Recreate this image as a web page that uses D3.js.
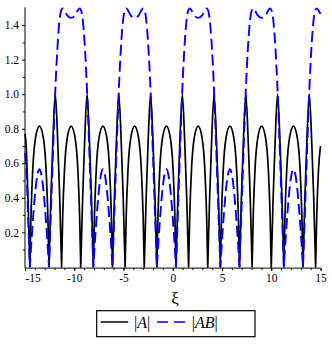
<!DOCTYPE html>
<html><head><meta charset="utf-8">
<script src="https://cdn.jsdelivr.net/npm/d3@7"></script>
<style>body{margin:0;background:#fff;} svg{display:block;} text{font-family:'Liberation Serif','Times New Roman',serif;}</style>
</head><body>
<svg id="chart" width="332" height="345"></svg>
<script>
// |A| samples (xi, value)
const xiA = [
  -15, -14.892, -14.700, -14.508,
  -14.391, -14.216, -13.925, -13.536, -13.147, -12.856, -12.681, -12.563,
  -12.371, -12.179, -11.923, -11.668, -11.476, -11.284,
  -11.167, -10.992, -10.701, -10.312, -9.923, -9.632, -9.457, -9.340,
  -9.148, -8.956, -8.700, -8.445, -8.253, -8.061,
  -7.944, -7.769, -7.478, -7.089, -6.700, -6.409, -6.234, -6.117,
  -5.925, -5.733, -5.477, -5.222, -5.030, -4.838,
  -4.721, -4.546, -4.255, -3.866, -3.477, -3.186, -3.011, -2.893,
  -2.701, -2.509, -2.253, -1.998, -1.806, -1.614,
  -1.497, -1.322, -1.031, -0.642, -0.253, 0.038, 0.213, 0.330,
  0.522, 0.714, 0.970, 1.225, 1.417, 1.609,
  1.726, 1.901, 2.192, 2.581, 2.970, 3.261, 3.436, 3.553,
  3.745, 3.937, 4.193, 4.448, 4.640, 4.832,
  4.949, 5.124, 5.415, 5.804, 6.193, 6.484, 6.659, 6.777,
  6.969, 7.161, 7.417, 7.672, 7.864, 8.056,
  8.173, 8.348, 8.639, 9.028, 9.417, 9.708, 9.883, 10.000,
  10.192, 10.384, 10.640, 10.895, 11.087, 11.279,
  11.396, 11.571, 11.862, 12.251, 12.640, 12.931, 13.106, 13.223,
  13.415, 13.607, 13.863, 14.118, 14.310, 14.503,
  14.620, 14.795, 15.0
];
const absA = [
  0.77, 0.71, 0.40, 0,
  0.30, 0.56, 0.75, 0.815, 0.75, 0.56, 0.30, 0,
  0.40, 0.71, 1.0, 0.71, 0.40, 0,
  0.30, 0.56, 0.75, 0.815, 0.75, 0.56, 0.30, 0,
  0.40, 0.71, 1.0, 0.71, 0.40, 0,
  0.30, 0.56, 0.75, 0.815, 0.75, 0.56, 0.30, 0,
  0.40, 0.71, 1.0, 0.71, 0.40, 0,
  0.30, 0.56, 0.75, 0.815, 0.75, 0.56, 0.30, 0,
  0.40, 0.71, 1.0, 0.71, 0.40, 0,
  0.30, 0.56, 0.75, 0.815, 0.75, 0.56, 0.30, 0,
  0.40, 0.71, 1.0, 0.71, 0.40, 0,
  0.30, 0.56, 0.75, 0.815, 0.75, 0.56, 0.30, 0,
  0.40, 0.71, 1.0, 0.71, 0.40, 0,
  0.30, 0.56, 0.75, 0.815, 0.75, 0.56, 0.30, 0,
  0.40, 0.71, 1.0, 0.71, 0.40, 0,
  0.30, 0.56, 0.75, 0.815, 0.75, 0.56, 0.30, 0,
  0.40, 0.71, 1.0, 0.71, 0.40, 0,
  0.30, 0.56, 0.75, 0.815, 0.75, 0.56, 0.30, 0,
  0.40, 0.71, 1.0, 0.71, 0.40, 0,
  0.30, 0.56, 0.70
];
// |AB| samples (xi, value)
const xiAB = [
  -15, -14.813, -14.660, -14.508,
  -14.314, -14.119, -13.925, -13.730, -13.536, -13.342, -13.147, -12.953, -12.758, -12.563,
  -12.411, -12.258, -12.106, -11.954, -11.802, -11.649, -11.497, -11.345, -11.172, -10.989, -10.736, -10.312,
  -9.887, -9.634, -9.451, -9.278, -9.126, -8.974, -8.821, -8.669, -8.517, -8.365, -8.212, -8.061,
  -7.867, -7.672, -7.478, -7.283, -7.089, -6.895, -6.700, -6.506, -6.311, -6.117,
  -5.965, -5.812, -5.660, -5.508, -5.356, -5.203, -5.051, -4.899, -4.726, -4.543, -4.290, -3.866,
  -3.441, -3.188, -3.005, -2.832, -2.680, -2.528, -2.375, -2.223, -2.071, -1.919, -1.766, -1.614,
  -1.420, -1.225, -1.031, -0.836, -0.642, -0.448, -0.253, -0.059, 0.136, 0.330,
  0.482, 0.635, 0.787, 0.939, 1.091, 1.244, 1.396, 1.548, 1.721, 1.904, 2.157, 2.581,
  3.006, 3.259, 3.442, 3.615, 3.767, 3.919, 4.072, 4.224, 4.376, 4.528, 4.681, 4.832,
  5.026, 5.221, 5.415, 5.610, 5.804, 5.998, 6.193, 6.387, 6.582, 6.777,
  6.929, 7.082, 7.234, 7.386, 7.538, 7.691, 7.843, 7.995, 8.168, 8.351, 8.604, 9.028,
  9.453, 9.706, 9.889, 10.062, 10.214, 10.366, 10.519, 10.671, 10.823, 10.975, 11.128, 11.279,
  11.473, 11.668, 11.862, 12.057, 12.251, 12.445, 12.640, 12.834, 13.029, 13.223,
  13.375, 13.528, 13.680, 13.832, 13.984, 14.137, 14.289, 14.441, 14.614, 14.797, 15.0
];
const absAB = [
  0.66, 0.50, 0.25, 0,
  0.175, 0.33, 0.455, 0.535, 0.565, 0.535, 0.455, 0.33, 0.175, 0,
  0.25, 0.50, 0.75, 0.98, 1.17, 1.32, 1.425, 1.48, 1.497, 1.485, 1.458, 1.442,
  1.458, 1.485, 1.497, 1.48, 1.425, 1.32, 1.17, 0.98, 0.75, 0.50, 0.25, 0,
  0.175, 0.33, 0.455, 0.535, 0.565, 0.535, 0.455, 0.33, 0.175, 0,
  0.25, 0.50, 0.75, 0.98, 1.17, 1.32, 1.425, 1.48, 1.497, 1.485, 1.458, 1.442,
  1.458, 1.485, 1.497, 1.48, 1.425, 1.32, 1.17, 0.98, 0.75, 0.50, 0.25, 0,
  0.175, 0.33, 0.455, 0.535, 0.565, 0.535, 0.455, 0.33, 0.175, 0,
  0.25, 0.50, 0.75, 0.98, 1.17, 1.32, 1.425, 1.48, 1.497, 1.485, 1.458, 1.442,
  1.458, 1.485, 1.497, 1.48, 1.425, 1.32, 1.17, 0.98, 0.75, 0.50, 0.25, 0,
  0.175, 0.33, 0.455, 0.535, 0.565, 0.535, 0.455, 0.33, 0.175, 0,
  0.25, 0.50, 0.75, 0.98, 1.17, 1.32, 1.425, 1.48, 1.497, 1.485, 1.458, 1.442,
  1.458, 1.485, 1.497, 1.48, 1.425, 1.32, 1.17, 0.98, 0.75, 0.50, 0.25, 0,
  0.175, 0.33, 0.455, 0.535, 0.565, 0.535, 0.455, 0.33, 0.175, 0,
  0.25, 0.50, 0.75, 0.98, 1.17, 1.32, 1.425, 1.48, 1.497, 1.485, 1.464
];
const xTicks = [-15, -10, -5, 0, 5, 10, 15];
const xMinorTicks = d3.range(-15, 16, 1);
const yTicks = [0.2, 0.4, 0.6, 0.8, 1.0, 1.2, 1.4];
const yMinorTicks = [0.1, 0.3, 0.5, 0.7, 0.9, 1.1, 1.3];
const xLabel = "ξ";
const seriesNames = ["A", "AB"];

const svg = d3.select("#chart");
const x = d3.scaleLinear().domain([-15, 15]).range([25, 320.5]);
const y = d3.scaleLinear().domain([-0.007, 1.503]).range([268.1, 7.3]);
const serif = "'Liberation Serif','Times New Roman',serif";

// axes
const gx = svg.append("g").attr("transform", `translate(0,${y(-0.007)})`)
  .call(d3.axisBottom(x).tickValues(xMinorTicks).tickSize(2).tickFormat(""));
const gx2 = svg.append("g").attr("transform", `translate(0,${y(-0.007)})`)
  .call(d3.axisBottom(x).tickValues(xTicks).tickSize(3).tickPadding(3).tickFormat(d => String(d)));
gx2.selectAll("text").style("font-family", serif).style("font-size", "11.5px").attr("fill", "#000");
gx2.selectAll(".tick").filter(d => d === -15).select("text").attr("text-anchor", "start");

const gy = svg.append("g").attr("transform", `translate(${x(-15)},0)`)
  .call(d3.axisLeft(y).tickValues(yMinorTicks).tickSize(2).tickFormat(""));
const gy2 = svg.append("g").attr("transform", `translate(${x(-15)},0)`)
  .call(d3.axisLeft(y).tickValues(yTicks).tickSize(3).tickPadding(3).tickFormat(d3.format(".1f")));
gy2.selectAll("text").style("font-family", serif).style("font-size", "11.5px").attr("fill", "#000");
svg.selectAll(".domain").remove();

svg.append("line").attr("x1", x(-15)).attr("x2", x(15)).attr("y1", y(-0.007)).attr("y2", y(-0.007))
  .attr("stroke", "#000").attr("stroke-width", 1);
svg.append("line").attr("x1", x(-15)).attr("x2", x(-15)).attr("y1", y(-0.007)).attr("y2", y(1.503))
  .attr("stroke", "#000").attr("stroke-width", 1);

// curves: split at zeros to keep cusps sharp, joined into one continuous path
function cuspPath(xs, ys) {
  const pts = xs.map((v, i) => [v, ys[i]]);
  const line = d3.line().x(d => x(d[0])).y(d => y(d[1])).curve(d3.curveMonotoneX);
  const segs = [];
  let cur = [pts[0]];
  for (let i = 1; i < pts.length; i++) {
    cur.push(pts[i]);
    if (pts[i][1] === 0 && i < pts.length - 1) { segs.push(cur); cur = [pts[i]]; }
  }
  segs.push(cur);
  return segs.map((s, i) => { const d = line(s); return i ? d.replace(/^M/, "L") : d; }).join("");
}

svg.append("path").attr("d", cuspPath(xiA, absA))
  .attr("fill", "none").attr("stroke", "#000").attr("stroke-width", 1.7).attr("stroke-linejoin", "round");
svg.append("path").attr("d", cuspPath(xiAB, absAB))
  .attr("fill", "none").attr("stroke", "#0000ff").attr("stroke-width", 1.9)
  .attr("stroke-dasharray", "11,5");

// x label
svg.append("text").attr("x", 175).attr("y", 304).attr("text-anchor", "middle")
  .style("font-family", serif).style("font-size", "17px").text(xLabel);

// legend
const lg = svg.append("g");
lg.append("rect").attr("x", 96.7).attr("y", 310.7).attr("width", 158.3).attr("height", 26)
  .attr("fill", "#fff").attr("stroke", "#000").attr("stroke-width", 1.2);
lg.append("line").attr("x1", 100.7).attr("x2", 128.3).attr("y1", 322).attr("y2", 322)
  .attr("stroke", "#000").attr("stroke-width", 1.5);
lg.append("line").attr("x1", 157).attr("x2", 185).attr("y1", 322).attr("y2", 322)
  .attr("stroke", "#0000ff").attr("stroke-width", 1.5).attr("stroke-dasharray", "11,6");
const lx = [134, 191.7];
seriesNames.forEach((nm, i) => {
  const t = lg.append("text").attr("x", lx[i]).attr("y", 327.5)
    .style("font-family", serif).style("font-size", "16px").attr("fill", "#000");
  t.append("tspan").text("|");
  t.append("tspan").attr("font-style", "italic").text(nm);
  t.append("tspan").text("|");
});
</script>
</body></html>
